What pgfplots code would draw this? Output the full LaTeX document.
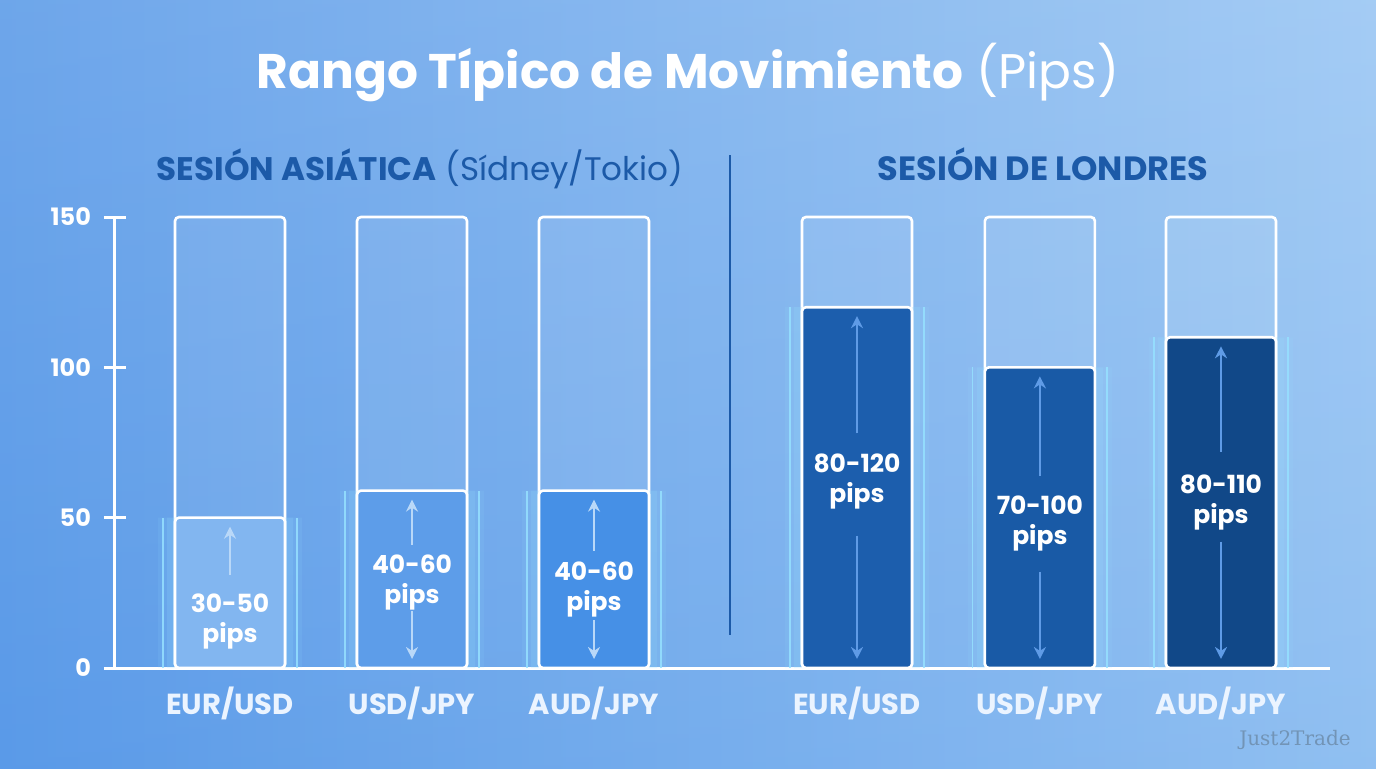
\documentclass[border=0pt]{standalone}
\usepackage{pgfplots}
\pgfplotsset{compat=1.18}
\usepackage{fontspec}
\setmainfont{Poppins}
\newfontfamily\wmfont{DejaVu Serif}
\usetikzlibrary{arrows.meta}
\definecolor{bgL}{RGB}{90,154,232}
\definecolor{bgR}{RGB}{152,197,243}
\definecolor{sess}{RGB}{28,90,168}
\definecolor{aA}{RGB}{130,182,240}
\definecolor{aB}{RGB}{93,157,233}
\definecolor{aC}{RGB}{70,144,230}
\definecolor{lA}{RGB}{28,94,173}
\definecolor{lB}{RGB}{25,90,166}
\definecolor{lC}{RGB}{17,72,136}
\definecolor{glow}{RGB}{150,225,255}
\definecolor{arrA}{RGB}{185,216,248}
\definecolor{arrL}{RGB}{95,155,230}
\definecolor{cat}{RGB}{235,244,255}
\begin{document}
\begin{tikzpicture}
\shade[left color=bgL, right color=bgR] (0,0) rectangle (688pt,384pt);
\shade[top color=white, bottom color=bgL, opacity=0.12] (0,0) rectangle (688pt,384pt);
\begin{axis}[
  at={(57.5pt,50pt)}, anchor=south west,
  scale only axis, width=607.5pt, height=225.5pt,
  xmin=-0.632, xmax=6.044, ymin=0, ymax=150,
  clip=false,
  axis lines*=left,
  axis line style={white, line width=1.5pt},
  xtick={0,1,2,3.445,4.45,5.445},
  xticklabels={EUR/USD,USD/JPY,AUD/JPY,EUR/USD,USD/JPY,AUD/JPY},
  ytick={0,50,100,150},
  tick align=center,
  major tick length=11pt,
  y tick style={white, line width=1.5pt},
  x tick style={draw=none},
  /pgf/number format/assume math mode=true,
  y tick label style={font=\bfseries\fontsize{12}{12}\selectfont, text=white, xshift=-3pt},
  x tick label style={font=\bfseries\fontsize{14.5}{14.5}\selectfont, text=cat, yshift=-0.5pt},
  bar shift=0pt,
]
% outline bars
\addplot[ybar, bar width=55pt, bar shift=0pt, draw=white, line width=1.3pt, fill=white, fill opacity=0.07, rounded corners=2pt]
  coordinates {(0,150) (1,150) (2,150) (3.445,150) (4.45,150) (5.445,150)};
% glow
\addplot[ybar, bar width=72pt, bar shift=0pt, draw=none, fill=glow, fill opacity=0.10]
  coordinates {(0,50) (1,59) (2,59) (3.445,120) (4.45,100) (5.445,110)};
\addplot[ybar, bar width=63pt, bar shift=0pt, draw=none, fill=glow, fill opacity=0.16]
  coordinates {(0,50) (1,59) (2,59) (3.445,120) (4.45,100) (5.445,110)};
% filled bars
\addplot[ybar, bar width=55pt, bar shift=0pt, draw=white, line width=1.3pt, fill=aA, rounded corners=2pt] coordinates {(0,50)};
\addplot[ybar, bar width=55pt, bar shift=0pt, draw=white, line width=1.3pt, fill=aB, rounded corners=2pt] coordinates {(1,59)};
\addplot[ybar, bar width=55pt, bar shift=0pt, draw=white, line width=1.3pt, fill=aC, rounded corners=2pt] coordinates {(2,59)};
\addplot[ybar, bar width=55pt, bar shift=0pt, draw=white, line width=1.3pt, fill=lA, rounded corners=2pt] coordinates {(3.445,120)};
\addplot[ybar, bar width=55pt, bar shift=0pt, draw=white, line width=1.3pt, fill=lB, rounded corners=2pt] coordinates {(4.45,100)};
\addplot[ybar, bar width=55pt, bar shift=0pt, draw=white, line width=1.3pt, fill=lC, rounded corners=2pt] coordinates {(5.445,110)};
% side glow lines
\addplot[glow, line width=0.9pt, opacity=0.85] coordinates {(-0.37,0) (-0.37,50)};
\addplot[glow, line width=0.9pt, opacity=0.85] coordinates {(0.37,0) (0.37,50)};
\addplot[glow, line width=0.9pt, opacity=0.85] coordinates {(0.63,0) (0.63,59)};
\addplot[glow, line width=0.9pt, opacity=0.85] coordinates {(1.37,0) (1.37,59)};
\addplot[glow, line width=0.9pt, opacity=0.85] coordinates {(1.63,0) (1.63,59)};
\addplot[glow, line width=0.9pt, opacity=0.85] coordinates {(2.37,0) (2.37,59)};
\addplot[glow, line width=0.9pt, opacity=0.85] coordinates {(3.075,0) (3.075,120)};
\addplot[glow, line width=0.9pt, opacity=0.85] coordinates {(3.815,0) (3.815,120)};
\addplot[glow, line width=0.9pt, opacity=0.85] coordinates {(4.08,0) (4.08,100)};
\addplot[glow, line width=0.9pt, opacity=0.85] coordinates {(4.82,0) (4.82,100)};
\addplot[glow, line width=0.9pt, opacity=0.85] coordinates {(5.075,0) (5.075,110)};
\addplot[glow, line width=0.9pt, opacity=0.85] coordinates {(5.815,0) (5.815,110)};
% arrows
\addplot[arrA, line width=1.2pt, -{Stealth[length=6pt,width=6pt]}] coordinates {(0,31) (0,47)};
\addplot[arrA, line width=1.2pt, -{Stealth[length=6pt,width=6pt]}] coordinates {(1,41) (1,56)};
\addplot[arrA, line width=1.2pt, -{Stealth[length=6pt,width=6pt]}] coordinates {(1,19) (1,3)};
\addplot[arrA, line width=1.2pt, -{Stealth[length=6pt,width=6pt]}] coordinates {(2,39) (2,56)};
\addplot[arrA, line width=1.2pt, -{Stealth[length=6pt,width=6pt]}] coordinates {(2,16) (2,3)};
\addplot[arrL, line width=1.2pt, -{Stealth[length=6pt,width=6pt]}] coordinates {(3.445,78) (3.445,117)};
\addplot[arrL, line width=1.2pt, -{Stealth[length=6pt,width=6pt]}] coordinates {(3.445,44) (3.445,3)};
\addplot[arrL, line width=1.2pt, -{Stealth[length=6pt,width=6pt]}] coordinates {(4.45,64) (4.45,97)};
\addplot[arrL, line width=1.2pt, -{Stealth[length=6pt,width=6pt]}] coordinates {(4.45,32) (4.45,3)};
\addplot[arrL, line width=1.2pt, -{Stealth[length=6pt,width=6pt]}] coordinates {(5.445,72) (5.445,107)};
\addplot[arrL, line width=1.2pt, -{Stealth[length=6pt,width=6pt]}] coordinates {(5.445,42) (5.445,3)};
% labels
\tikzset{blab/.style={font=\bfseries\fontsize{12.5}{15}\selectfont, text=white, align=center}}
\node[blab] at (axis cs:0,15.6) {30-50\\pips};
\node[blab] at (axis cs:1,28.6) {40-60\\pips};
\node[blab] at (axis cs:2,26) {40-60\\pips};
\node[blab] at (axis cs:3.445,61.9) {80-120\\pips};
\node[blab] at (axis cs:4.45,47.9) {70-100\\pips};
\node[blab] at (axis cs:5.445,55.2) {80-110\\pips};
\end{axis}
\draw[sess, line width=1.2pt] (365pt,306.5pt) -- (365pt,66.5pt);
\node[text=white, font=\fontsize{24.3}{25}\selectfont] at (344pt,348pt) {\textbf{Rango Típico de Movimiento} (Pips)};
\node[text=sess, font=\fontsize{16.3}{16}\selectfont, anchor=base] at (210pt,294pt) {\textbf{SESIÓN ASIÁTICA} (Sídney/Tokio)};
\node[text=sess, font=\bfseries\fontsize{16.8}{16}\selectfont, anchor=base] at (521.5pt,294pt) {SESIÓN DE LONDRES};
\node[text=black!25!bgR, font=\wmfont\fontsize{10}{10}\selectfont] at (647.5pt,14pt) {Just2Trade};
\end{tikzpicture}
\end{document}
